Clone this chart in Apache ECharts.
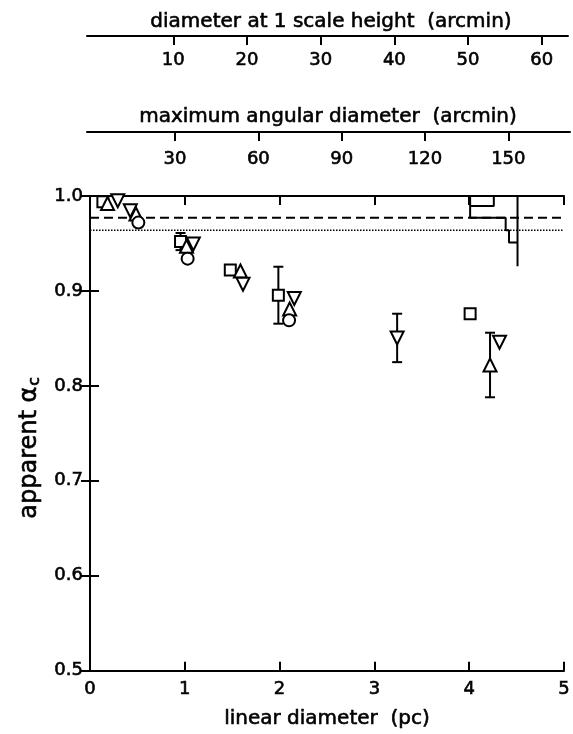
<!DOCTYPE html>
<html><head><meta charset="utf-8">
<script src="https://cdn.jsdelivr.net/npm/echarts@6/dist/echarts.min.js"></script>
<style>html,body{margin:0;padding:0;background:#fff}#c{width:573px;height:734px}</style>
</head><body><div id="c"></div>
<script>
// ---- data ----
const scaleHeightTicks = [10, 20, 30, 40, 50, 60];
const angularTicks = [30, 60, 90, 120, 150];

const squareX = [0.136, 0.955, 1.48, 1.987, 4.01];
const squareY = [0.994, 0.952, 0.922, 0.8955, 0.876];
const squareErr = [0, 0.009, 0, 0.030, 0];

const upX = [0.185, 0.485, 1.018, 1.587, 2.106, 4.22];
const upY = [0.992, 0.981, 0.947, 0.921, 0.881, 0.822];
const upErr = [0, 0, 0, 0, 0, 0.034];

const downX = [0.293, 0.425, 1.09, 1.614, 2.155, 3.24, 4.32];
const downY = [0.995, 0.9845, 0.9495, 0.907, 0.892, 0.8505, 0.846];
const downErr = [0, 0, 0, 0, 0, 0.0255, 0];

const circleX = [0.51, 1.03, 2.10];
const circleY = [0.972, 0.934, 0.869];

const dashedLevel = 0.977;
const dottedLevel = 0.964;

const histEdges = [1.0, 0.9895, 0.977, 0.964, 0.951];
const histLeft = [4.26, 4.01, 4.385, 4.42];
const histBase = 4.51;
const histBaseBottom = 0.926;

// ---- build ----
const FONT = 'DejaVu Sans';
const pairs = (xs, ys) => xs.map((x, i) => [x, ys[i]]);
const errs = (xs, ys, es) => xs.map((x, i) => es[i] > 0 ? [x, ys[i] - es[i], ys[i] + es[i]] : null).filter(Boolean);

const histPath = [];
histLeft.forEach((l, i) => { histPath.push([l, histEdges[i]]); histPath.push([l, histEdges[i + 1]]); });
histPath.push([histBase, histEdges[histEdges.length - 1]]);
const histExtra = [[histLeft[1], histEdges[0]], [histLeft[1], histEdges[1]]];
const histBaseLine = [[histBase, histEdges[0]], [histBase, histBaseBottom]];

const black = '#000';
const heavy = { textBorderColor: black, textBorderWidth: 0.6 };
const axisLine = { show: true, lineStyle: { color: black, width: 2 } };
const tickIn = { show: true, inside: true, length: 9, lineStyle: { color: black, width: 2 } };
const lbl = Object.assign({ color: black, fontFamily: FONT, fontSize: 18 }, heavy);

const markerStyle = { color: '#fff', borderColor: black, borderWidth: 2, opacity: 1 };
function scatter(name, data, symbol, size, rotate) {
  return { name, type: 'scatter', xAxisIndex: 0, yAxisIndex: 0, data, symbol, symbolSize: size,
    symbolRotate: rotate || 0, itemStyle: markerStyle, z: 5, silent: true };
}
function lineS(data, style, z) {
  return { type: 'line', xAxisIndex: 0, yAxisIndex: 0, data, symbol: 'none', lineStyle: style, z: z || 3, silent: true, animation: false };
}

const errData = [].concat(errs(squareX, squareY, squareErr), errs(upX, upY, upErr), errs(downX, downY, downErr));

const option = {
  animation: false,
  backgroundColor: '#fff',
  title: [
    { text: 'diameter at 1 scale height  (arcmin)', left: 326, top: 7, textAlign: 'center',
      textStyle: Object.assign({ color: black, fontFamily: FONT, fontSize: 20, fontWeight: 'normal' }, heavy) },
    { text: 'maximum angular diameter  (arcmin)', left: 323, top: 102, textAlign: 'center',
      textStyle: Object.assign({ color: black, fontFamily: FONT, fontSize: 20, fontWeight: 'normal' }, heavy) }
  ],
  grid: [
    { left: 90, top: 196, width: 478, height: 475 },
    { left: 87, top: 35, width: 481, height: 1 },
    { left: 87, top: 131, width: 483, height: 1 }
  ],
  xAxis: [
    { gridIndex: 0, type: 'value', min: 0, max: 5, interval: 1, position: 'bottom',
      axisLine, axisTick: tickIn, splitLine: { show: false },
      axisLabel: Object.assign({ margin: 10 }, lbl),
      name: 'linear diameter  (pc)', nameLocation: 'middle', nameGap: 38,
      nameTextStyle: Object.assign({ color: black, fontFamily: FONT, fontSize: 20 }, heavy) },
    { gridIndex: 1, type: 'value', min: -1.71, max: 63.57, position: 'bottom',
      axisLine, splitLine: { show: false },
      axisTick: { show: true, length: 9, lineStyle: { color: black, width: 2 }, customValues: scaleHeightTicks },
      axisLabel: Object.assign({ margin: 15, customValues: scaleHeightTicks }, lbl) },
    { gridIndex: 2, type: 'value', min: -1.69, max: 172.2, position: 'bottom',
      axisLine, splitLine: { show: false },
      axisTick: { show: true, length: 9, lineStyle: { color: black, width: 2 }, customValues: angularTicks },
      axisLabel: Object.assign({ margin: 18, customValues: angularTicks }, lbl) },
    { gridIndex: 0, type: 'value', min: 0, max: 5, interval: 1, position: 'top',
      axisLine, axisTick: tickIn, axisLabel: { show: false }, splitLine: { show: false } }
  ],
  yAxis: [
    { gridIndex: 0, type: 'value', min: 0.5, max: 1.0, interval: 0.1, position: 'left',
      axisLine, axisTick: tickIn, splitLine: { show: false },
      axisLabel: Object.assign({ margin: 7, formatter: v => v.toFixed(1) }, lbl),
      name: '{a|apparent α}{s|c}', nameLocation: 'middle', nameGap: 42, nameRotate: 90,
      nameTextStyle: Object.assign({ color: black, fontFamily: FONT, fontSize: 24, padding: [0, 29, 0, 0],
        rich: { a: Object.assign({ fontFamily: FONT, fontSize: 24, color: black }, heavy),
                s: Object.assign({ fontFamily: FONT, fontSize: 16, color: black, verticalAlign: 'bottom', padding: [10, 0, 0, 1] }, heavy) } }, heavy) },
    { gridIndex: 0, type: 'value', min: 0.5, max: 1.0, interval: 0.1, position: 'right',
      axisLine, axisTick: tickIn, axisLabel: { show: false }, splitLine: { show: false } },
    { gridIndex: 1, type: 'value', show: false },
    { gridIndex: 2, type: 'value', show: false }
  ],
  series: [
    lineS([[0, dashedLevel], [5, dashedLevel]], { color: black, width: 2, type: [9, 5] }),
    lineS([[0, dottedLevel], [5, dottedLevel]], { color: black, width: 1.5, type: [1.5, 1.5] }),
    lineS(histPath, { color: black, width: 2 }),
    lineS(histExtra, { color: black, width: 2 }),
    lineS(histBaseLine, { color: black, width: 2 }),
    { type: 'custom', xAxisIndex: 0, yAxisIndex: 0, data: errData, z: 4, silent: true,
      renderItem: (params, api) => {
        const x = api.value(0), lo = api.value(1), hi = api.value(2);
        const p1 = api.coord([x, hi]), p2 = api.coord([x, lo]);
        const w = 5, st = { stroke: black, lineWidth: 2 };
        return { type: 'group', children: [
          { type: 'line', shape: { x1: p1[0], y1: p1[1], x2: p2[0], y2: p2[1] }, style: st },
          { type: 'line', shape: { x1: p1[0] - w, y1: p1[1], x2: p1[0] + w, y2: p1[1] }, style: st },
          { type: 'line', shape: { x1: p2[0] - w, y1: p2[1], x2: p2[0] + w, y2: p2[1] }, style: st }
        ] };
      } },
    scatter('square', pairs(squareX, squareY), 'rect', 11),
    scatter('up', pairs(upX, upY), 'triangle', 13),
    scatter('down', pairs(downX, downY), 'triangle', 13, 180),
    scatter('circle', pairs(circleX, circleY), 'circle', 12)
  ]
};
echarts.init(document.getElementById('c')).setOption(option);
</script></body></html>
